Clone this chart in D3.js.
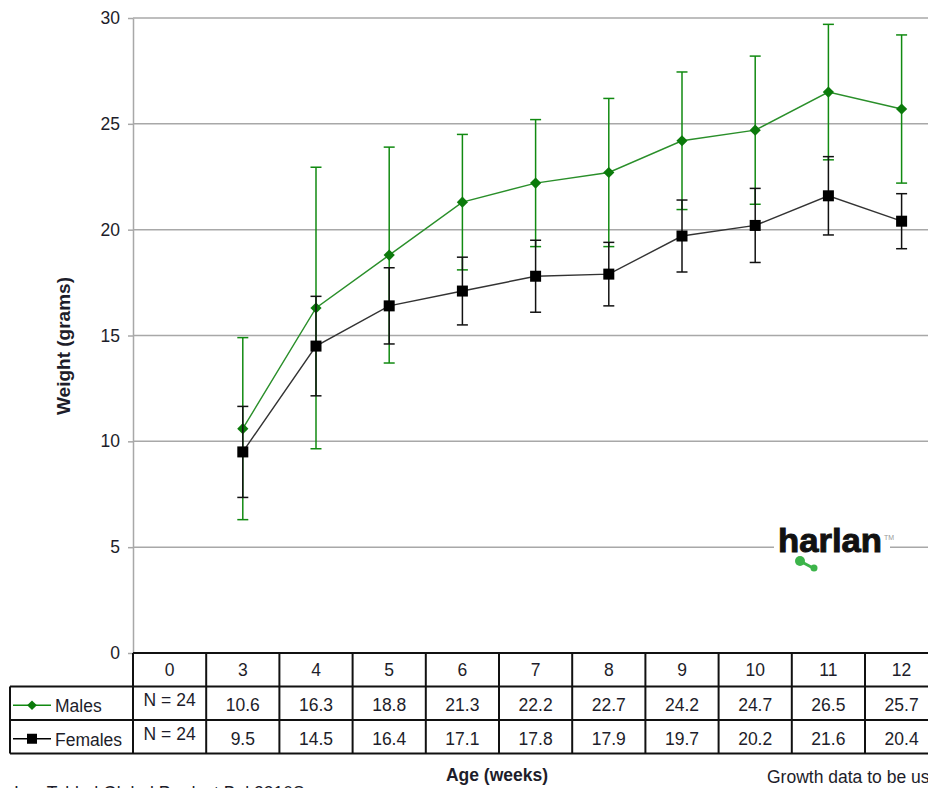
<!DOCTYPE html>
<html>
<head>
<meta charset="utf-8">
<script src="https://cdn.jsdelivr.net/npm/d3@7"></script>
<style>
  body { margin: 0; background: #fff; }
  svg { display: block; font-family: "Liberation Sans", Arial, sans-serif; }
</style>
</head>
<body>
<script>
// Growth chart: weight by age, males vs females, with SD error bars

// data
var weeks = ["0", "3", "4", "5", "6", "7", "8", "9", "10", "11", "12"];
var maleMean = [null, 10.6, 16.3, 18.8, 21.3, 22.2, 22.7, 24.2, 24.7, 26.5, 25.7];
var maleSD = [null, 4.3, 6.65, 5.1, 3.2, 3.0, 3.5, 3.25, 3.5, 3.2, 3.5];
var femaleMean = [null, 9.5, 14.5, 16.4, 17.1, 17.8, 17.9, 19.7, 20.2, 21.6, 20.4];
var femaleSD = [null, 2.15, 2.35, 1.8, 1.6, 1.7, 1.5, 1.7, 1.75, 1.85, 1.3];
var nLabel = "N = 24";
var yTicks = [0, 5, 10, 15, 20, 25, 30];

var width = 928, height = 788;
var plotLeft = 133, plotTop = 18, plotBottom = 653;
var colW = 73.2;
var rowH = 33.5;
var fs = 17.5;
var textColor = "#1d1d2a";
var maleColor = "#118a11";

var svg = d3.select("body").append("svg")
    .attr("width", width)
    .attr("height", height);

// scales
var x = d3.scaleBand()
    .domain(weeks)
    .range([plotLeft, plotLeft + colW * weeks.length])
    .paddingInner(0).paddingOuter(0);
var y = d3.scaleLinear().domain([0, 30]).range([plotBottom, plotTop]);

// grid lines
svg.append("g").selectAll("line")
    .data(yTicks.filter(function(d) { return d > 0; }))
    .enter().append("line")
    .attr("x1", plotLeft).attr("x2", width)
    .attr("y1", function(d) { return y(d); })
    .attr("y2", function(d) { return y(d); })
    .attr("stroke", "#a8a8a8")
    .attr("stroke-width", 1.5);

// y axis
var yAxis = svg.append("g")
    .attr("transform", "translate(" + plotLeft + ",0)")
    .call(d3.axisLeft(y).tickValues(yTicks).tickSize(5).tickPadding(8).tickSizeOuter(0));
yAxis.select(".domain").attr("stroke", "#a8a8a8").attr("stroke-width", 1.5);
yAxis.selectAll(".tick line").attr("stroke", "#a8a8a8").attr("stroke-width", 1.5);
yAxis.selectAll(".tick text")
    .attr("font-size", fs)
    .attr("fill", textColor)
    .attr("font-family", "Liberation Sans, Arial, sans-serif");

svg.append("text")
    .attr("transform", "translate(70,346) rotate(-90)")
    .attr("text-anchor", "middle")
    .attr("font-size", 19)
    .attr("font-weight", "bold")
    .attr("fill", textColor)
    .text("Weight (grams)");

// logo
var logo = svg.append("g");
logo.append("rect").attr("x", 774).attr("y", 540).attr("width", 116).attr("height", 14).attr("fill", "#fff");
logo.append("text")
    .attr("x", 778).attr("y", 552)
    .attr("font-size", 34).attr("font-weight", "bold")
    .attr("textLength", 104).attr("lengthAdjust", "spacingAndGlyphs")
    .attr("fill", "#111")
    .attr("stroke", "#111").attr("stroke-width", 1)
    .text("harlan");
logo.append("text")
    .attr("x", 884).attr("y", 540)
    .attr("font-size", 7).attr("fill", "#999")
    .text("TM");
logo.append("line").attr("x1", 800).attr("y1", 561).attr("x2", 813).attr("y2", 568)
    .attr("stroke", "#3cb44a").attr("stroke-width", 3);
logo.append("circle").attr("cx", 800).attr("cy", 561).attr("r", 5).attr("fill", "#3cb44a");
logo.append("circle").attr("cx", 814).attr("cy", 568).attr("r", 3.5).attr("fill", "#3cb44a");

// series
function drawSeries(mean, sd, color, lineColor) {
    var pts = [];
    mean.forEach(function(m, i) {
        if (m != null) pts.push({ w: weeks[i], m: m, sd: sd[i] });
    });
    var cx = function(d) { return x(d.w) + x.bandwidth() / 2; };
    var g = svg.append("g");
    g.selectAll(".err").data(pts).enter().append("line")
        .attr("x1", cx).attr("x2", cx)
        .attr("y1", function(d) { return y(d.m + d.sd); })
        .attr("y2", function(d) { return y(d.m - d.sd); })
        .attr("stroke", color).attr("stroke-width", 1.5);
    [1, -1].forEach(function(s) {
        g.selectAll(".cap" + s).data(pts).enter().append("line")
            .attr("x1", function(d) { return cx(d) - 5.5; })
            .attr("x2", function(d) { return cx(d) + 5.5; })
            .attr("y1", function(d) { return y(d.m + s * d.sd); })
            .attr("y2", function(d) { return y(d.m + s * d.sd); })
            .attr("stroke", color).attr("stroke-width", 1.5);
    });
    return { g: g, pts: pts, cx: cx, lineColor: lineColor, color: color };
}

var males = drawSeries(maleMean, maleSD, maleColor, "#2a8f2a");
var females = drawSeries(femaleMean, femaleSD, "#111", "#333");

[males, females].forEach(function(s) {
    s.g.append("path")
        .datum(s.pts)
        .attr("fill", "none")
        .attr("stroke", s.lineColor)
        .attr("stroke-width", 1.4)
        .attr("d", d3.line().x(s.cx).y(function(d) { return y(d.m); }));
});

males.g.selectAll(".mk").data(males.pts).enter().append("path")
    .attr("transform", function(d) { return "translate(" + males.cx(d) + "," + y(d.m) + ")"; })
    .attr("d", d3.symbol().type(d3.symbolDiamond2).size(80))
    .attr("fill", "#0b7a0b");

females.g.selectAll(".mk").data(females.pts).enter().append("rect")
    .attr("x", function(d) { return females.cx(d) - 5.5; })
    .attr("y", function(d) { return y(d.m) - 5.5; })
    .attr("width", 11).attr("height", 11)
    .attr("fill", "#000");

// data table
var tableRight = x.range()[1];
var rows = [
    { name: "Males", vals: maleMean, color: maleColor },
    { name: "Females", vals: femaleMean, color: "#000" }
];
var tbl = svg.append("g");
var line = function(x1, y1, x2, y2) {
    tbl.append("line").attr("x1", x1).attr("y1", y1).attr("x2", x2).attr("y2", y2)
        .attr("stroke", "#111").attr("stroke-width", 2);
};
// horizontal lines
line(plotLeft, plotBottom, tableRight, plotBottom);
line(10, plotBottom + rowH, tableRight, plotBottom + rowH);
line(10, plotBottom + 2 * rowH, tableRight, plotBottom + 2 * rowH);
line(10, plotBottom + 3 * rowH, tableRight, plotBottom + 3 * rowH);
// vertical lines
line(10, plotBottom + rowH, 10, plotBottom + 3 * rowH);
weeks.forEach(function(w) {
    line(x(w), plotBottom, x(w), plotBottom + 3 * rowH);
});

// header row
tbl.selectAll(".hdr").data(weeks).enter().append("text")
    .attr("x", function(d) { return x(d) + x.bandwidth() / 2; })
    .attr("y", plotBottom + rowH / 2 + 6.5)
    .attr("text-anchor", "middle")
    .attr("font-size", fs).attr("fill", textColor)
    .text(function(d) { return d; });

rows.forEach(function(r, ri) {
    var ry = plotBottom + rowH * (ri + 1);
    // legend key
    tbl.append("line").attr("x1", 13).attr("x2", 51)
        .attr("y1", ry + rowH / 2 + 2).attr("y2", ry + rowH / 2 + 2)
        .attr("stroke", r.color).attr("stroke-width", 1.5);
    if (ri === 0) {
        tbl.append("path")
            .attr("transform", "translate(32," + (ry + rowH / 2 + 2) + ")")
            .attr("d", d3.symbol().type(d3.symbolDiamond2).size(60))
            .attr("fill", "#0b7a0b");
    } else {
        tbl.append("rect").attr("x", 27).attr("y", ry + rowH / 2 - 3)
            .attr("width", 10).attr("height", 10).attr("fill", "#000");
    }
    tbl.append("text")
        .attr("x", 55).attr("y", ry + rowH / 2 + 9)
        .attr("font-size", fs).attr("fill", textColor)
        .text(r.name);
    tbl.selectAll(".v" + ri).data(weeks).enter().append("text")
        .attr("x", function(d) { return x(d) + x.bandwidth() / 2; })
        .attr("y", function(d, i) { return ry + rowH / 2 + (i === 0 ? 3 : 8); })
        .attr("text-anchor", "middle")
        .attr("font-size", fs).attr("fill", textColor)
        .text(function(d, i) { return i === 0 ? nLabel : r.vals[i].toFixed(1); });
});

// footer texts
svg.append("text")
    .attr("x", 497).attr("y", 781)
    .attr("text-anchor", "middle")
    .attr("font-size", fs).attr("font-weight", "bold").attr("fill", textColor)
    .text("Age (weeks)");
svg.append("text")
    .attr("x", 767).attr("y", 783)
    .attr("font-size", fs).attr("fill", textColor)
    .text("Growth data to be used as a guide only");
svg.append("text")
    .attr("x", 14).attr("y", 799)
    .attr("font-size", fs).attr("fill", textColor)
    .text("Inc. Tabled Global Product Bul 2310S");
</script>
</body>
</html>
